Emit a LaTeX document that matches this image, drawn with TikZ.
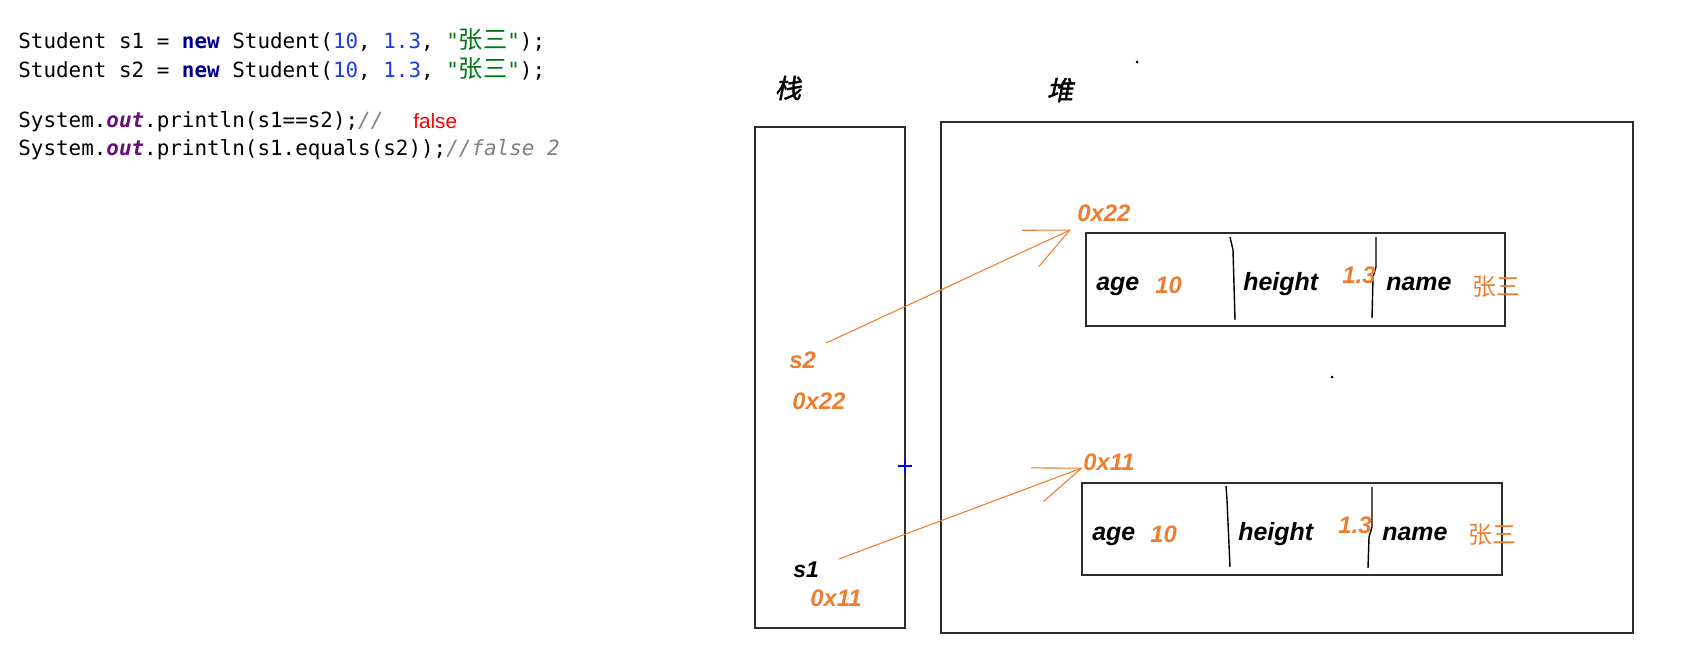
\documentclass[tikz,border=0pt]{standalone}
\usepackage{fontspec}
\setmainfont{Liberation Sans}
\setmonofont{DejaVu Sans Mono}
\newfontfamily\cjk{Noto Sans CJK SC}
\newfontfamily\cjkhead[FakeSlant=0.2,FakeBold=1.5]{Noto Sans CJK SC}
\usetikzlibrary{arrows.meta}
\definecolor{kwnavy}{RGB}{0,0,140}
\definecolor{numblue}{RGB}{30,60,215}
\definecolor{strgreen}{RGB}{0,120,20}
\definecolor{fieldpurple}{RGB}{102,14,122}
\definecolor{cmtgray}{RGB}{128,128,128}
\definecolor{memorange}{RGB}{237,125,49}
\definecolor{edgegray}{RGB}{45,45,45}
\newcommand{\kw}[1]{{\bfseries\color{kwnavy}#1}}
\newcommand{\num}[1]{{\color{numblue}#1}}
\newcommand{\jstr}[1]{{\color{strgreen}"{\cjk\fontsize{13.8}{14}\selectfont #1}"}}
\newcommand{\fld}[1]{{\bfseries\itshape\color{fieldpurple}#1}}
\begin{document}
\begin{tikzpicture}[x=0.02cm,y=-0.02cm,
  code/.style={anchor=base west,inner sep=0,font=\ttfamily\fontsize{11.9}{14}\selectfont},
  memory/.style={draw=edgegray,line width=0.85pt},
  field/.style={anchor=base west,inner sep=0,font=\fontsize{14.2}{16}\selectfont\bfseries\itshape},
  val/.style={anchor=base west,inner sep=0,text=memorange,font=\fontsize{13.6}{15}\selectfont\bfseries\itshape},
  addr/.style={anchor=base west,inner sep=0,text=memorange,font=\fontsize{13.6}{15}\selectfont\bfseries\itshape},
  cname/.style={anchor=base west,inner sep=0,text=memorange,font=\cjk\fontsize{13.6}{15}\selectfont},
  head/.style={inner sep=0,font=\cjkhead\fontsize{15}{16}\selectfont},
  ref/.style={draw=memorange,line width=0.6pt}]
\useasboundingbox (0,0) rectangle (1701,657);
% Java code: two Student objects compared with == and equals
\node[code] (line1) at (18,48) {Student s1 = \kw{new} Student(\num{10}, \num{1.3}, \jstr{张三});};
\node[code] (line2) at (18,77) {Student s2 = \kw{new} Student(\num{10}, \num{1.3}, \jstr{张三});};
\node[code] (line3) at (18,127) {System.\fld{out}.println(s1==s2);{\itshape\color{cmtgray}//}};
\node[code] (line4) at (18,155) {System.\fld{out}.println(s1.equals(s2));{\itshape\color{cmtgray}//false 2}};
\node[anchor=base west,inner sep=0,text=red,font=\fontsize{11.8}{14}\selectfont] (verdict) at (413,128) {false};

% stack and heap
\node[head] (stacklbl) at (788,88) {栈};
\node[head] (heaplbl) at (1060,90) {堆};
\draw[memory] (755,127) rectangle (905,628);
\draw[memory] (941,122) rectangle (1633,633);
\fill (1137,62) circle (1.5);
\fill (1332,377) circle (1.5);
\draw[blue,line width=1.1pt] (898,466) -- (912,466) (905,459) -- (905,473);

% object 0x22
\draw[memory] (1086,233) rectangle (1505,326);
\draw[line width=0.8pt] (1230,237) -- (1233,250) -- (1235,320);
\draw[line width=0.8pt] (1376,237) -- (1376,267) -- (1373,277) -- (1372,318);
\node[addr] (h22) at (1077,221) {0x22};
\node[field] (age2) at (1096,290) {age};
\node[val] (agev2) at (1155,293) {10};
\node[field] (hgt2) at (1243,290) {height};
\node[val] (hgtv2) at (1342,283) {1.3};
\node[field] (nam2) at (1386,290) {name};
\node[cname] (namv2) at (1472,295) {张三};

% object 0x11
\draw[memory] (1082,483) rectangle (1502,575);
\draw[line width=0.8pt] (1226,486) -- (1227,500) -- (1230,567);
\draw[line width=0.8pt] (1372,487) -- (1372,527) -- (1369,537) -- (1368,568);
\node[addr] (h11) at (1083,470) {0x11};
\node[field] (age1) at (1092,540) {age};
\node[val] (agev1) at (1150,542) {10};
\node[field] (hgt1) at (1238,540) {height};
\node[val] (hgtv1) at (1338,533) {1.3};
\node[field] (nam1) at (1382,540) {name};
\node[cname] (namv1) at (1468,543) {张三};

% references on the stack
\node[val] (s2) at (789,368) {s2};
\node[addr] (a22) at (792,409) {0x22};
\node[field,font=\fontsize{13}{15}\selectfont\bfseries\itshape] (s1) at (793,577) {s1};
\node[addr] (a11) at (810,606) {0x11};
\draw[ref,-{Straight Barb[length=0.87cm,width=0.8cm]}] ([shift={(10,-8)}]s2.north east) -- ([shift={(-6,8)}]h22.south west);
\draw[ref,-{Straight Barb[length=0.95cm,width=0.72cm]}] ([shift={(20,-2)}]s1.north east) -- ([shift={(0,-3)}]h11.south west);
\end{tikzpicture}
\end{document}
